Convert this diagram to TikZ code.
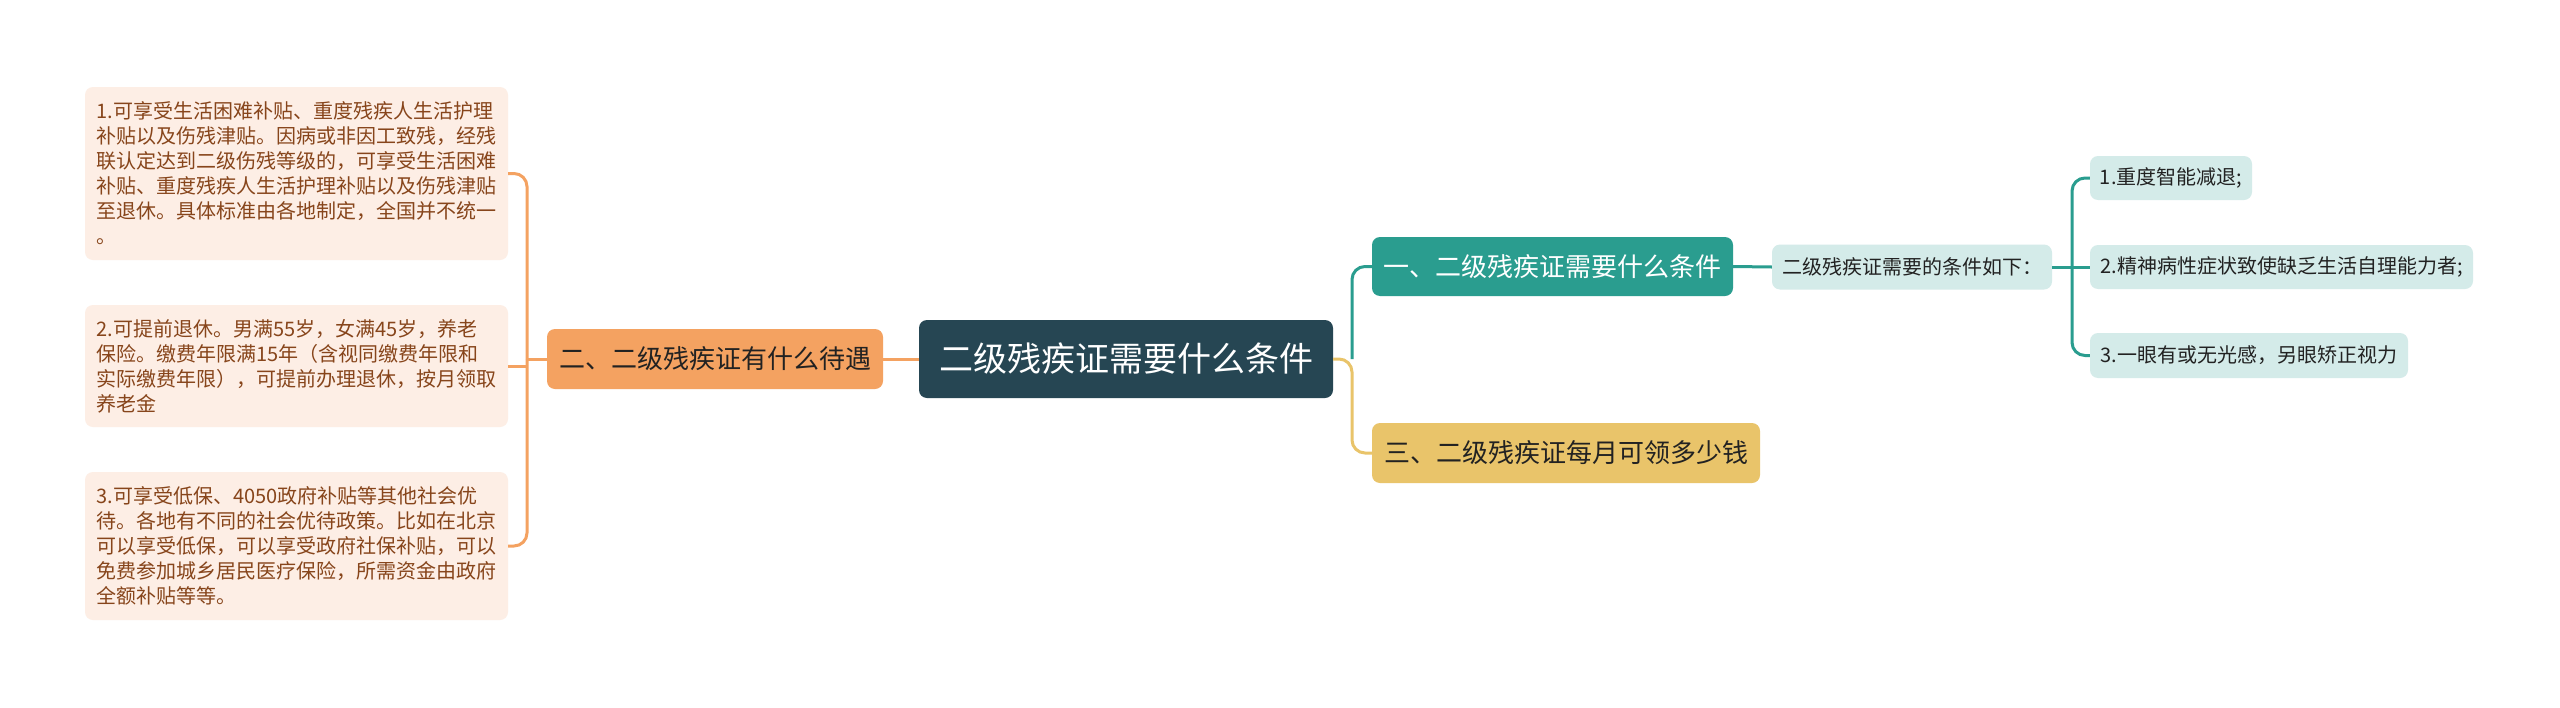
\documentclass[tikz,border=0pt]{standalone}
\usepackage{fontspec}
\setmainfont{Noto Sans CJK SC}
\definecolor{rootc}{HTML}{264653}
\definecolor{tealc}{HTML}{2A9D8F}
\definecolor{yelc}{HTML}{E9C46A}
\definecolor{orac}{HTML}{F4A261}
\definecolor{peach}{HTML}{FDEEE5}
\definecolor{lteal}{HTML}{D4EBE9}
\definecolor{brownt}{HTML}{87451B}
\definecolor{darkt}{HTML}{222222}
\begin{document}
\begin{tikzpicture}[x=1pt,y=-1pt,
  box/.style={rounded corners=8pt, inner sep=0pt, align=center},
  rootbox/.style={box, fill=rootc, text=white, font=\fontsize{34}{40}\selectfont},
  lvone/.style={box, text=darkt, font=\fontsize{26}{32}\selectfont},
  leafbox/.style={box, fill=lteal, text=darkt, font=\fontsize{20}{25}\selectfont},
  peachbox/.style={box, fill=peach, text=brownt, align=left, font=\fontsize{20}{25}\selectfont, minimum width=423pt},
  conn/.style={line width=3pt, rounded corners=13pt}
]
\useasboundingbox[fill=white] (0,0) rectangle (2560,707);

% root
\node[rootbox, minimum width=414pt, minimum height=78pt] (root) at (1126,359) {二级残疾证需要什么条件};

% level one
\node[lvone, fill=orac, minimum width=336pt, minimum height=60pt] (n2) at (715,359) {二、二级残疾证有什么待遇};
\node[lvone, fill=tealc, text=white, minimum width=361pt, minimum height=59pt] (n1) at (1552.5,266.5) {一、二级残疾证需要什么条件};
\node[lvone, fill=yelc, minimum width=388pt, minimum height=60pt] (n3) at (1566,453) {三、二级残疾证每月可领多少钱};

% right side
\node[leafbox, minimum width=280pt, minimum height=45pt] (c) at (1912,267) {二级残疾证需要的条件如下：};
\node[leafbox, minimum width=162pt, minimum height=44pt] (l1) at (2171,178) {1.重度智能减退;};
\node[leafbox, minimum width=383pt, minimum height=44pt] (l2) at (2281.5,267) {2.精神病性症状致使缺乏生活自理能力者;};
\node[leafbox, minimum width=318pt, minimum height=45pt] (l3) at (2249,355.5) {3.一眼有或无光感，另眼矫正视力};

% left side
\node[peachbox, minimum height=173pt] (b1) at (296.5,173.5) {1.可享受生活困难补贴、重度残疾人生活护理\\补贴以及伤残津贴。因病或非因工致残，经残\\联认定达到二级伤残等级的，可享受生活困难\\补贴、重度残疾人生活护理补贴以及伤残津贴\\至退休。具体标准由各地制定，全国并不统一\\。};
\node[peachbox, minimum height=122pt] (b2) at (296.5,366) {2.可提前退休。男满55岁，女满45岁，养老\\保险。缴费年限满15年（含视同缴费年限和\\实际缴费年限），可提前办理退休，按月领取\\养老金};
\node[peachbox, minimum height=148pt] (b3) at (296.5,546) {3.可享受低保、4050政府补贴等其他社会优\\待。各地有不同的社会优待政策。比如在北京\\可以享受低保，可以享受政府社保补贴，可以\\免费参加城乡居民医疗保险，所需资金由政府\\全额补贴等等。};

% junctions
\coordinate (rj) at (1352,359);
\coordinate (lj) at (527,359);
\coordinate (cj) at (2072,267);

% connectors root -> right
\draw[conn, yelc] (root.east) -- (rj) |- (n3.west);
\draw[conn, tealc] (rj) |- (n1.west);
% root -> left
\draw[conn, orac] (root.west) -- (n2.east);
\draw[conn, orac] (n2.west) -- (lj);
\draw[conn, orac] (lj) |- (b1.east);
\draw[conn, orac] (lj) |- (b3.east);
\draw[conn, orac] (lj |- b2.east) -- (b2.east);
% n1 -> c -> leaves
\draw[conn, tealc] (n1.east) -- (c.west);
\draw[conn, tealc] (c.east) -- (cj);
\draw[conn, tealc] (cj) |- (l1.west);
\draw[conn, tealc] (cj) |- (l3.west);
\draw[conn, tealc] (cj) -- (l2.west);
\end{tikzpicture}
\end{document}
